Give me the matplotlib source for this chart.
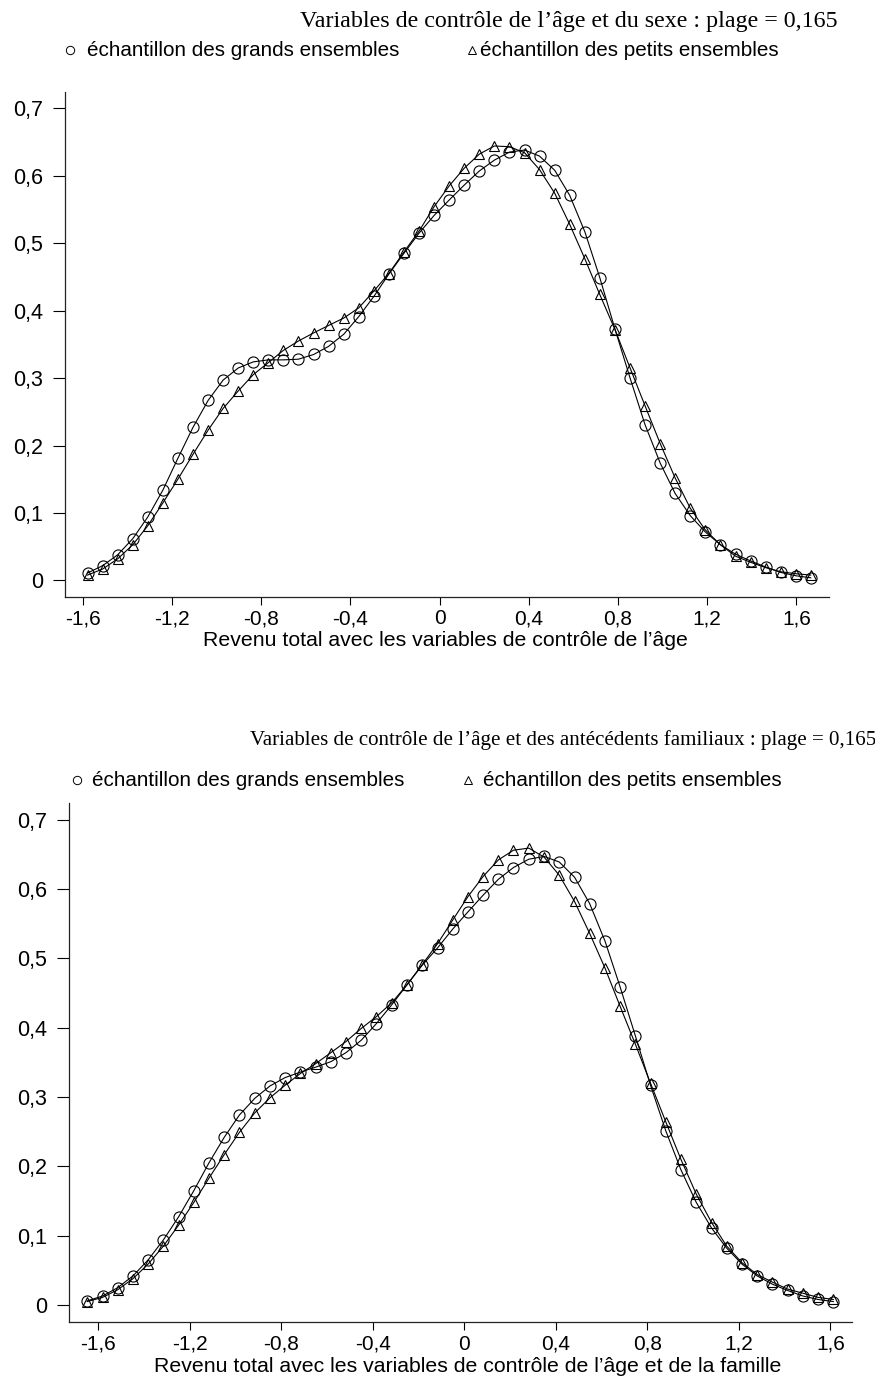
import matplotlib
matplotlib.use("Agg")
import matplotlib.pyplot as plt
from matplotlib.lines import Line2D

# --- data ---
# top panel: age + sex controls (49 estimation points)
x_top = [-1.579, -1.511, -1.444, -1.376, -1.309, -1.241, -1.174, -1.106, -1.038, -0.971,
         -0.903, -0.836, -0.768, -0.701, -0.633, -0.565, -0.498, -0.430, -0.363, -0.295,
         -0.228, -0.160, -0.092, -0.025, 0.043, 0.110, 0.178, 0.245, 0.313, 0.381,
         0.448, 0.516, 0.583, 0.651, 0.718, 0.786, 0.854, 0.921, 0.989, 1.056,
         1.124, 1.191, 1.259, 1.327, 1.394, 1.462, 1.529, 1.597, 1.664]
grands_top = [0.011, 0.022, 0.038, 0.062, 0.094, 0.134, 0.181, 0.227, 0.267, 0.297,
              0.315, 0.324, 0.327, 0.327, 0.328, 0.335, 0.347, 0.365, 0.391, 0.421,
              0.454, 0.485, 0.515, 0.541, 0.564, 0.586, 0.607, 0.623, 0.635, 0.638,
              0.629, 0.608, 0.571, 0.517, 0.449, 0.373, 0.300, 0.231, 0.174, 0.129,
              0.096, 0.072, 0.053, 0.039, 0.029, 0.020, 0.012, 0.007, 0.004]
petits_top = [0.008, 0.017, 0.032, 0.053, 0.081, 0.115, 0.150, 0.187, 0.223, 0.255,
              0.281, 0.305, 0.323, 0.341, 0.355, 0.367, 0.378, 0.389, 0.404, 0.429,
              0.455, 0.487, 0.518, 0.554, 0.585, 0.611, 0.632, 0.644, 0.643, 0.634,
              0.609, 0.574, 0.528, 0.477, 0.424, 0.372, 0.315, 0.259, 0.203, 0.152,
              0.107, 0.075, 0.053, 0.036, 0.027, 0.019, 0.013, 0.010, 0.008]

# bottom panel: age + family background controls (50 estimation points)
x_bot = [-1.648, -1.581, -1.515, -1.448, -1.382, -1.315, -1.249, -1.182, -1.116, -1.049,
         -0.983, -0.916, -0.849, -0.783, -0.716, -0.650, -0.583, -0.517, -0.450, -0.384,
         -0.317, -0.250, -0.184, -0.117, -0.051, 0.016, 0.082, 0.149, 0.215, 0.282,
         0.349, 0.415, 0.482, 0.548, 0.615, 0.681, 0.748, 0.814, 0.881, 0.947,
         1.014, 1.081, 1.147, 1.214, 1.280, 1.347, 1.413, 1.480, 1.546, 1.613]
grands_bot = [0.006, 0.013, 0.025, 0.042, 0.065, 0.094, 0.127, 0.165, 0.205, 0.242,
              0.274, 0.298, 0.316, 0.328, 0.336, 0.343, 0.351, 0.364, 0.382, 0.406,
              0.433, 0.462, 0.490, 0.515, 0.542, 0.567, 0.591, 0.614, 0.631, 0.643,
              0.647, 0.639, 0.617, 0.579, 0.525, 0.459, 0.388, 0.317, 0.251, 0.195,
              0.148, 0.111, 0.082, 0.059, 0.042, 0.030, 0.021, 0.013, 0.008, 0.005]
petits_bot = [0.005, 0.011, 0.022, 0.038, 0.059, 0.085, 0.115, 0.148, 0.183, 0.217,
              0.249, 0.277, 0.299, 0.317, 0.334, 0.348, 0.364, 0.380, 0.399, 0.416,
              0.436, 0.462, 0.491, 0.521, 0.555, 0.589, 0.618, 0.642, 0.656, 0.659,
              0.646, 0.620, 0.582, 0.536, 0.486, 0.431, 0.376, 0.320, 0.264, 0.210,
              0.160, 0.119, 0.085, 0.061, 0.044, 0.033, 0.023, 0.017, 0.011, 0.008]

xticks = [-1.6, -1.2, -0.8, -0.4, 0, 0.4, 0.8, 1.2, 1.6]
xticklabels = ["-1,6", "-1,2", "-0,8", "-0,4", "0", "0,4", "0,8", "1,2", "1,6"]
yticks = [0, 0.1, 0.2, 0.3, 0.4, 0.5, 0.6, 0.7]
yticklabels = ["0", "0,1", "0,2", "0,3", "0,4", "0,5", "0,6", "0,7"]

titles = ["Variables de contrôle de l’âge et du sexe : plage = 0,165",
          "Variables de contrôle de l’âge et des antécédents familiaux : plage = 0,165"]
xlabels = ["Revenu total avec les variables de contrôle de l’âge",
           "Revenu total avec les variables de contrôle de l’âge et de la famille"]
leg_grands = "échantillon des grands ensembles"
leg_petits = "échantillon des petits ensembles"

W, H = 875, 1378
fig = plt.figure(figsize=(W / 100, H / 100), dpi=100)
sans = "Liberation Sans"
serif = "Liberation Serif"


def fx(px):
    return px / W


def fy(py):
    return 1 - py / H


def panel(box, xs, g, p, xlim, title, title_style, xlabel, label_pos, leg):
    l, t, r, b = box
    ax = fig.add_axes([fx(l), fy(b), fx(r) - fx(l), fy(t) - fy(b)])
    ax.plot(xs, g, color="black", lw=0.8, marker="o", ms=8, mfc="none", mec="black", mew=0.8)
    ax.plot(xs, p, color="black", lw=0.8, marker="^", ms=7.5, mfc="none", mec="black", mew=0.8)
    ax.set_xlim(*xlim)
    ax.set_ylim(-0.0245, 0.7245)
    ax.spines["top"].set_visible(False)
    ax.spines["right"].set_visible(False)
    for s in ("left", "bottom"):
        ax.spines[s].set_linewidth(0.9)
        ax.spines[s].set_color("#222222")
    ax.set_xticks(xticks)
    ax.set_xticklabels(xticklabels, fontsize=15, family=sans)
    ax.set_yticks(yticks)
    ax.set_yticklabels(yticklabels, fontsize=15.5, family=sans)
    ax.tick_params(axis="y", length=8.5, width=0.8, pad=7)
    ax.tick_params(axis="x", length=6, width=0.8, pad=3)
    fig.text(fx(label_pos[0]), fy(label_pos[1]), xlabel, fontsize=15.3, family=sans,
             ha="center", va="center")
    tx, ty, tsize = title_style
    fig.text(fx(tx), fy(ty), title, fontsize=tsize, family=serif, ha="center", va="center")
    # legend row
    c1, t1, c2, t2, cy = leg
    fig.add_artist(Line2D([fx(c1)], [fy(cy)], marker="o", ms=6, mfc="none", mec="black",
                          mew=0.7, transform=fig.transFigure))
    fig.text(fx(t1), fy(cy), leg_grands, fontsize=14.9, family=sans, va="center")
    fig.add_artist(Line2D([fx(c2)], [fy(cy)], marker="^", ms=5.5, mfc="none", mec="black",
                          mew=0.7, transform=fig.transFigure))
    fig.text(fx(t2), fy(cy), leg_petits, fontsize=14.9, family=sans, va="center")
    return ax


panel((65, 91.7, 829, 597), x_top, grands_top, petits_top, (-1.68, 1.746),
      titles[0], (569, 22, 17.3), xlabels[0], (445, 641), (70, 87, 472, 480, 50))
panel((68.7, 802.7, 852.3, 1322), x_bot, grands_bot, petits_bot, (-1.729, 1.696),
      titles[1], (563, 740, 15.1), xlabels[1], (468, 1366), (77, 92, 468, 483, 780))

fig.savefig("out.png", dpi=100)
